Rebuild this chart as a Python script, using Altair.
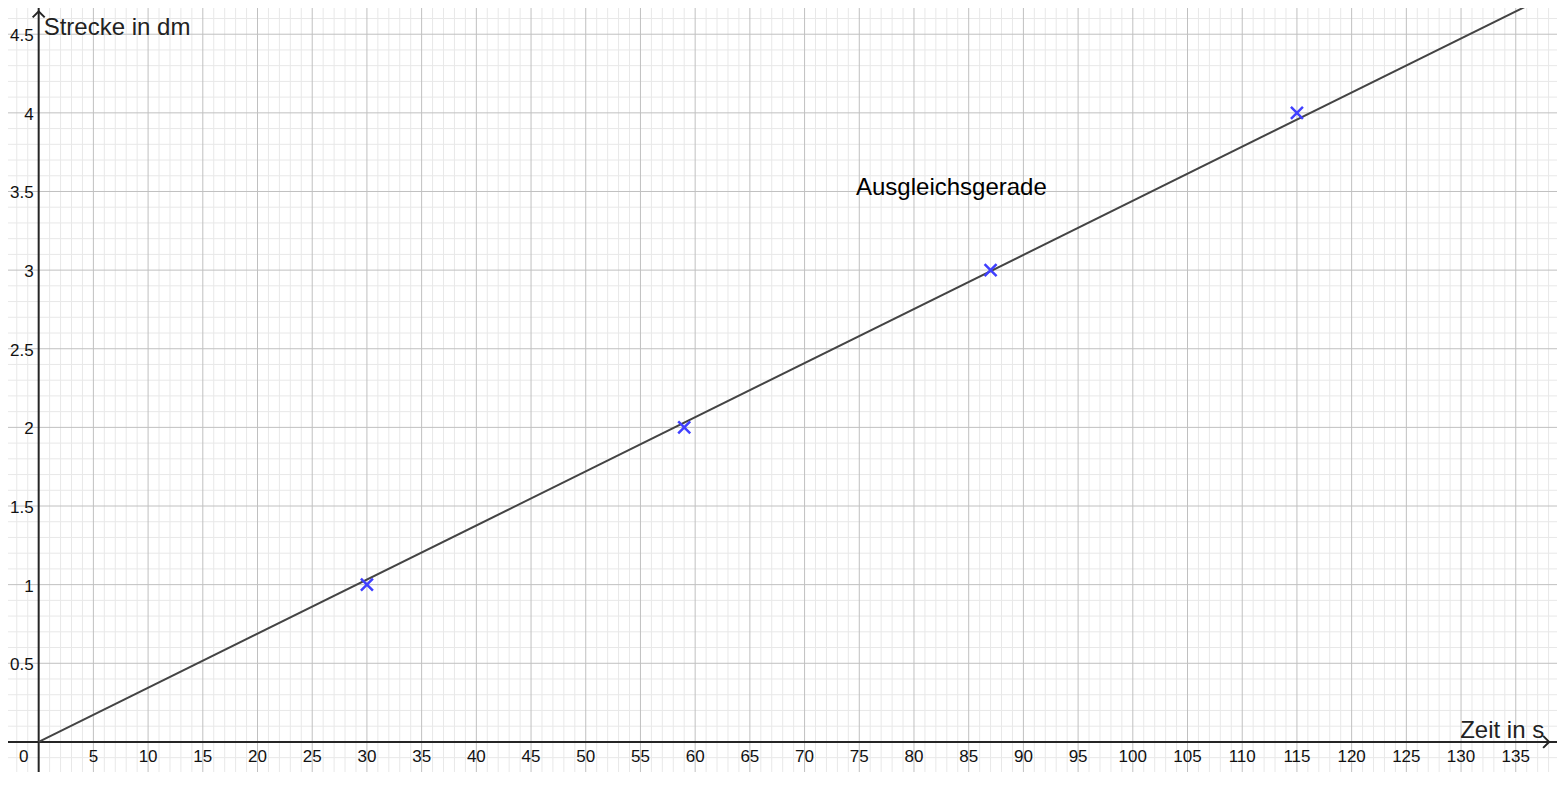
import altair as alt
import numpy as np
import pandas as pd

# ---- data ----
zeit = [30, 59, 87, 115]            # s
strecke = [1, 2, 3, 4]              # dm
fit_x = [0, 140]                    # Ausgleichsgerade end points
fit_y = [0, 4.817]

x_ticks = list(range(5, 140, 5))
y_ticks = [0.5, 1, 1.5, 2, 2.5, 3, 3.5, 4, 4.5]
x_minor = [v for v in range(-2, 139) if v % 5 != 0]
y_minor = [round(v, 1) for v in np.arange(-0.1, 4.7, 0.1) if round(v * 10) % 5 != 0]

X_DOM = [-2.804, 138.77]
Y_DOM = [-0.1914, 4.6667]
W, H = 1549, 764
FONT = "Liberation Sans"

xs = alt.Scale(domain=X_DOM, nice=False, zero=False)
ys = alt.Scale(domain=Y_DOM, nice=False, zero=False)


def X(f="x"):
    return alt.X(f"{f}:Q", scale=xs, axis=None)


def Y(f="y"):
    return alt.Y(f"{f}:Q", scale=ys, axis=None)


minor_x = alt.Chart(pd.DataFrame({"x": x_minor})).mark_rule(color="#e8e8e8", strokeWidth=1).encode(x=X())
minor_y = alt.Chart(pd.DataFrame({"y": y_minor})).mark_rule(color="#e8e8e8", strokeWidth=1).encode(y=Y())
major_x = alt.Chart(pd.DataFrame({"x": x_ticks})).mark_rule(color="#c0c0c0", strokeWidth=1).encode(x=X())
major_y = alt.Chart(pd.DataFrame({"y": y_ticks})).mark_rule(color="#c0c0c0", strokeWidth=1).encode(y=Y())

axis_x = alt.Chart(pd.DataFrame({"y": [0]})).mark_rule(color="#252525", strokeWidth=2).encode(y=Y())
axis_y = alt.Chart(pd.DataFrame({"x": [0]})).mark_rule(color="#252525", strokeWidth=2).encode(x=X())

arrow_x = alt.Chart(pd.DataFrame({"x": [138.05], "y": [0]})).mark_point(
    shape="M -1 -1 L 0 0 L -1 1", size=144, filled=False, color="#252525", strokeWidth=2, opacity=1
).encode(x=X(), y=Y())
arrow_y = alt.Chart(pd.DataFrame({"x": [0], "y": [4.645]})).mark_point(
    shape="M -1 1 L 0 0 L 1 1", size=144, filled=False, color="#252525", strokeWidth=2, opacity=1
).encode(x=X(), y=Y())

xlab = alt.Chart(pd.DataFrame({"x": x_ticks, "y": [0] * len(x_ticks), "t": [str(v) for v in x_ticks]})).mark_text(
    font=FONT, fontSize=17, color="#111111", align="center", baseline="middle", dy=15
).encode(x=X(), y=Y(), text="t:N")
zero_lab = alt.Chart(pd.DataFrame({"x": [0], "y": [0], "t": ["0"]})).mark_text(
    font=FONT, fontSize=17, color="#111111", align="center", baseline="middle", dx=-15, dy=15
).encode(x=X(), y=Y(), text="t:N")
ylab = alt.Chart(pd.DataFrame({"x": [0] * len(y_ticks), "y": y_ticks,
                               "t": [("%g" % v) for v in y_ticks]})).mark_text(
    font=FONT, fontSize=17, color="#111111", align="right", baseline="middle", dx=-5, dy=2
).encode(x=X(), y=Y(), text="t:N")

fit = alt.Chart(pd.DataFrame({"x": fit_x, "y": fit_y})).mark_line(
    color="#444444", strokeWidth=2, clip=True
).encode(x=X(), y=Y())

pts = alt.Chart(pd.DataFrame({"x": zeit, "y": strecke})).mark_point(
    shape="M -1 -1 L 1 1 M -1 1 L 1 -1", size=144, filled=False, color="#4040ff", strokeWidth=2.5, opacity=1
).encode(x=X(), y=Y())

ann = alt.Chart(pd.DataFrame({"x": [74.7], "y": [3.475], "t": ["Ausgleichsgerade"]})).mark_text(
    font=FONT, fontSize=24, color="#000000", align="left", baseline="alphabetic"
).encode(x=X(), y=Y(), text="t:N")
ytitle = alt.Chart(pd.DataFrame({"x": [0], "y": [4.494], "t": ["Strecke in dm"]})).mark_text(
    font=FONT, fontSize=24, color="#222222", align="left", baseline="alphabetic", dx=5
).encode(x=X(), y=Y(), text="t:N")
xtitle = alt.Chart(pd.DataFrame({"x": [137.6], "y": [0], "t": ["Zeit in s"]})).mark_text(
    font=FONT, fontSize=24, color="#222222", align="right", baseline="alphabetic", dy=-4
).encode(x=X(), y=Y(), text="t:N")

chart = alt.layer(
    minor_x, minor_y, major_x, major_y, axis_x, axis_y, arrow_x, arrow_y,
    xlab, zero_lab, ylab, fit, pts, ann, ytitle, xtitle
).properties(
    width=W, height=H, padding=0, autosize="none", background="white"
).configure_view(stroke=None)

chart.save("out.html", embed_options={"renderer": "svg", "actions": False})
